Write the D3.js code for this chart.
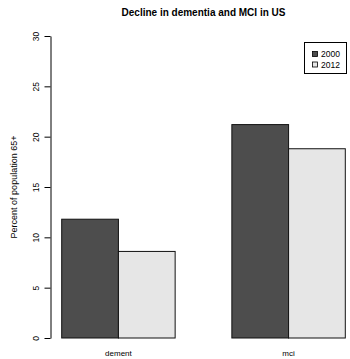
<!DOCTYPE html>
<html>
<head>
<meta charset="utf-8">
<script src="https://cdn.jsdelivr.net/npm/d3@7"></script>
<style>
  html, body { margin: 0; padding: 0; background: #fff; }
  svg { display: block; font-family: "Liberation Sans", Arial, Helvetica, sans-serif; }
</style>
</head>
<body>
<svg id="chart" width="350" height="359"></svg>
<script>
// Percent of population 65+ with dementia / MCI, by survey year
const categories = ["dement", "mci"];
const years = ["2000", "2012"];
const values2000 = [11.8, 21.2];
const values2012 = [8.6, 18.8];
const yTicks = [0, 5, 10, 15, 20, 25, 30];
const colors = ["#4d4d4d", "#e6e6e6"];

const rows = categories.map((c, i) => ({
  category: c,
  values: [
    { year: years[0], value: values2000[i] },
    { year: years[1], value: values2012[i] }
  ]
}));

const svg = d3.select("#chart");

// bar groups span x = 61.7 .. 345.3 with one bar-width gap between groups
const x0 = d3.scaleBand()
  .domain(categories)
  .range([61.7, 345.3])
  .paddingInner(1 / 3)
  .paddingOuter(0);

const x1 = d3.scaleBand()
  .domain(years)
  .range([0, x0.bandwidth()])
  .padding(0);

const y = d3.scaleLinear().domain([0, 30]).range([338, 36]);

const color = d3.scaleOrdinal().domain(years).range(colors);

// bars
const groups = svg.append("g")
  .selectAll("g")
  .data(rows)
  .join("g")
  .attr("transform", d => `translate(${x0(d.category)},0)`);

groups.selectAll("rect")
  .data(d => d.values)
  .join("rect")
  .attr("x", d => x1(d.year))
  .attr("y", d => y(d.value))
  .attr("width", x1.bandwidth())
  .attr("height", d => y(0) - y(d.value))
  .attr("fill", d => color(d.year))
  .attr("stroke", "#111")
  .attr("stroke-width", 1);

// category labels under each group
svg.append("g")
  .selectAll("text")
  .data(categories)
  .join("text")
  .attr("x", d => x0(d) + x0.bandwidth() / 2)
  .attr("y", 356)
  .attr("text-anchor", "middle")
  .attr("font-size", 8)
  .attr("fill", "#000")
  .text(d => d);

// left axis
const yAxis = d3.axisLeft(y).tickValues(yTicks).tickSize(6).tickSizeOuter(0).tickFormat(d3.format("d"));
const ag = svg.append("g")
  .attr("transform", "translate(50.5,0)")
  .call(yAxis);
ag.select(".domain").attr("stroke", "#000");
ag.selectAll(".tick line").attr("stroke", "#000");
ag.selectAll(".tick text")
  .attr("font-size", 8.5)
  .attr("font-family", "Liberation Sans, Arial, sans-serif")
  .attr("fill", "#000")
  .attr("text-anchor", "middle")
  .attr("x", null)
  .attr("dy", null)
  .attr("transform", "translate(-11.5,0) rotate(-90)");

// y-axis title
svg.append("text")
  .attr("transform", `translate(16.5,${(y(0) + y(30)) / 2}) rotate(-90)`)
  .attr("text-anchor", "middle")
  .attr("font-size", 9)
  .attr("fill", "#000")
  .text("Percent of population 65+");

// chart title
svg.append("text")
  .attr("x", 203.5)
  .attr("y", 16)
  .attr("text-anchor", "middle")
  .attr("font-size", 10)
  .attr("font-weight", "bold")
  .attr("fill", "#000")
  .text("Decline in dementia and MCI in US");

// legend
const legend = svg.append("g");
legend.append("rect")
  .attr("x", 304.5)
  .attr("y", 42.5)
  .attr("width", 42)
  .attr("height", 31)
  .attr("fill", "#fff")
  .attr("stroke", "#000")
  .attr("stroke-width", 1);

const items = legend.selectAll("g.item")
  .data(years)
  .join("g")
  .attr("class", "item")
  .attr("transform", (d, i) => `translate(0,${54 + i * 10.5})`);

items.append("rect")
  .attr("x", 312.5)
  .attr("y", -2.5)
  .attr("width", 5)
  .attr("height", 5)
  .attr("fill", d => color(d))
  .attr("stroke", "#000")
  .attr("stroke-width", 0.8);

items.append("text")
  .attr("x", 321)
  .attr("y", 3)
  .attr("font-size", 8.5)
  .attr("fill", "#000")
  .text(d => d);
</script>
</body>
</html>
